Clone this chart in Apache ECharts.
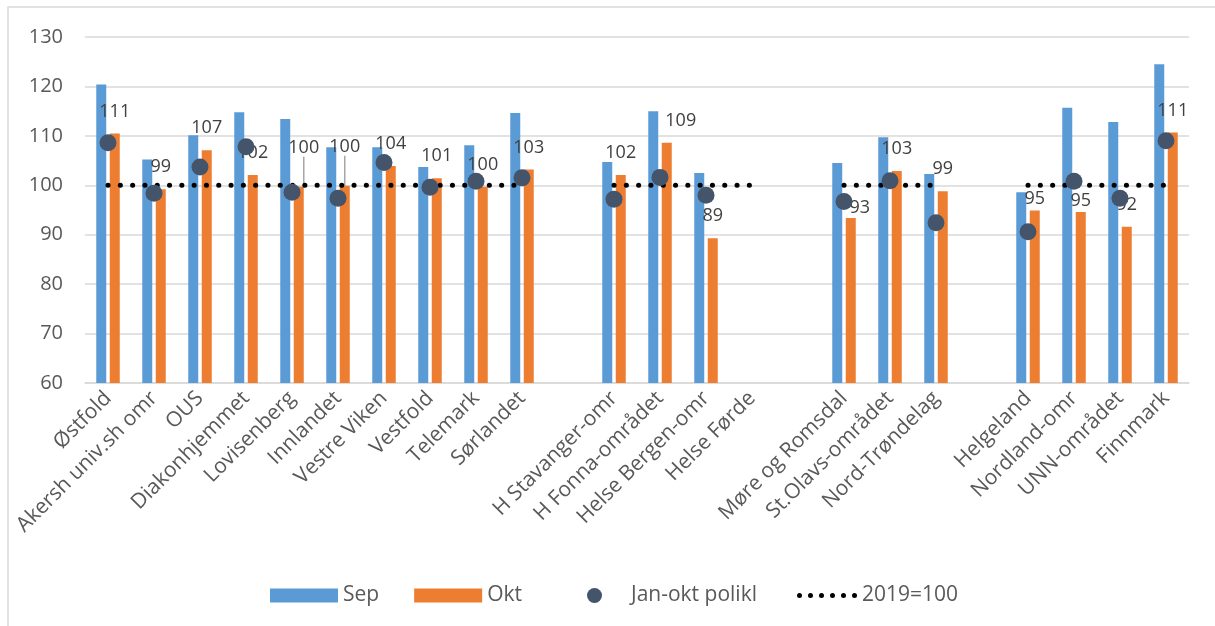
<!DOCTYPE html>
<html>
<head>
<meta charset="utf-8">
<script src="https://cdn.jsdelivr.net/npm/echarts@6/dist/echarts.min.js"></script>
<style>
html, body { margin: 0; padding: 0; background: #fff; }
#chart { width: 1215px; height: 626px; }
</style>
</head>
<body>
<div id="chart"></div>
<script>
// empty strings are the gaps between the regions
var categories = ['Østfold', 'Akersh univ.sh omr', 'OUS', 'Diakonhjemmet', 'Lovisenberg', 'Innlandet',
    'Vestre Viken', 'Vestfold', 'Telemark', 'Sørlandet', '',
    'H Stavanger-omr', 'H Fonna-området', 'Helse Bergen-omr', 'Helse Førde', ' ',
    'Møre og Romsdal', 'St.Olavs-området', 'Nord-Trøndelag', '  ',
    'Helgeland', 'Nordland-omr', 'UNN-området', 'Finnmark'];

var sep = [120.4, 105.2, 110.1, 114.8, 113.4, 107.7, 107.7, 103.7, 108.1, 114.6, null,
    104.7, 115.0, 102.5, null, null,
    104.5, 109.7, 102.3, null,
    98.6, 115.7, 112.8, 124.5];

var okt = [110.5, 99.2, 107.1, 102.1, 99.7, 99.9, 103.9, 101.4, 99.7, 103.2, null,
    102.1, 108.6, 89.3, null, null,
    93.4, 102.9, 98.8, null,
    94.9, 94.6, 91.6, 110.7];

var janOkt = [108.6, 98.4, 103.7, 107.8, 98.6, 97.4, 104.6, 99.6, 100.8, 101.5, null,
    97.2, 101.6, 98.0, null, null,
    96.7, 100.9, 92.4, null,
    90.6, 100.8, 97.4, 109.0];

var ref2019 = [100, 100, 100, 100, 100, 100, 100, 100, 100, 100, null,
    100, 100, 100, 100, null,
    100, 100, 100, null,
    100, 100, 100, 100];

// labels that were dragged by hand in the original (dx, dy in px)
var labelShift = { 4: [5, -17], 5: [0, -17], 12: [14, 0], 16: [9, 12], 20: [0, 10], 21: [0, 11] };
var leaderLines = [4, 5];

var font = '"Open Sans", "Liberation Sans", sans-serif';

var dotsIcon = 'path://';
for (var i = 0; i < 6; i++) {
    var cx = 2.5 + i * 11;
    dotsIcon += 'M' + (cx - 2.5) + ',2.5 a2.5,2.5 0 1,0 5,0 a2.5,2.5 0 1,0 -5,0 ';
}

var oktData = okt.map(function (v, i) {
    if (leaderLines.indexOf(i) >= 0) {
        return { value: v, labelLine: { show: true } };
    }
    return v;
});

var legendText = { fontSize: 21, color: '#595959', fontFamily: font };

var myChart = echarts.init(document.getElementById('chart'));

myChart.setOption({
    animation: false,
    textStyle: { fontFamily: font },
    graphic: [{
        type: 'rect',
        shape: { x: 8, y: 7, width: 1400, height: 800 },
        style: { fill: 'none', stroke: '#d9d9d9', lineWidth: 1.5 },
        silent: true
    }],
    grid: { left: 85, right: 26, top: 37, bottom: 243 },
    legend: [
        {
            top: 580, left: 265,
            itemWidth: 68, itemHeight: 14, itemGap: 35,
            textStyle: legendText,
            data: [{ name: 'Sep', icon: 'rect' }, { name: 'Okt', icon: 'rect' }]
        },
        {
            top: 580, left: 582,
            itemWidth: 15, itemHeight: 15,
            textStyle: Object.assign({ padding: [0, 0, 0, 24] }, legendText),
            data: [{ name: 'Jan-okt polikl', icon: 'circle', itemStyle: { color: '#44546a' } }]
        },
        {
            top: 580, left: 792,
            itemWidth: 60, itemHeight: 14,
            textStyle: legendText,
            data: [{ name: '2019=100', icon: dotsIcon, itemStyle: { color: '#000' } }]
        }
    ],
    xAxis: {
        type: 'category',
        data: categories,
        axisLine: { lineStyle: { color: '#d9d9d9', width: 1.5 } },
        axisTick: { show: false },
        axisLabel: {
            interval: 0,
            rotate: 45,
            fontSize: 21,
            color: '#595959',
            margin: 12,
            fontFamily: font
        }
    },
    yAxis: {
        type: 'value',
        min: 60,
        max: 130,
        interval: 10,
        axisLine: { show: false },
        axisTick: { show: false },
        axisLabel: { fontSize: 20, color: '#595959', margin: 22, fontFamily: font },
        splitLine: { lineStyle: { color: '#d9d9d9', width: 1.5 } }
    },
    series: [
        {
            name: 'Sep',
            type: 'bar',
            data: sep,
            barWidth: 10,
            barGap: '35%',
            itemStyle: { color: '#5b9bd5' }
        },
        {
            name: 'Okt',
            type: 'bar',
            data: oktData,
            barWidth: 10,
            itemStyle: { color: '#ed7d31' },
            label: {
                show: true,
                position: 'top',
                distance: 13,
                fontSize: 18,
                color: '#404040',
                fontFamily: font,
                formatter: function (p) { return Math.round(p.value); }
            },
            labelLine: { show: false, lineStyle: { color: '#a6a6a6', width: 1.5 } },
            labelLayout: function (p) {
                var s = labelShift[p.dataIndex];
                return s ? { dx: s[0], dy: s[1] } : {};
            },
            z: 3
        },
        {
            name: '2019=100',
            type: 'line',
            data: ref2019,
            symbol: 'none',
            connectNulls: false,
            lineStyle: { color: '#000', width: 5, type: [0.1, 12.2], cap: 'round' },
            itemStyle: { color: '#000' },
            z: 4
        },
        {
            name: 'Jan-okt polikl',
            type: 'scatter',
            data: janOkt,
            symbol: 'circle',
            symbolSize: 17,
            itemStyle: { color: '#44546a', opacity: 1 },
            z: 5
        }
    ]
});
</script>
</body>
</html>
